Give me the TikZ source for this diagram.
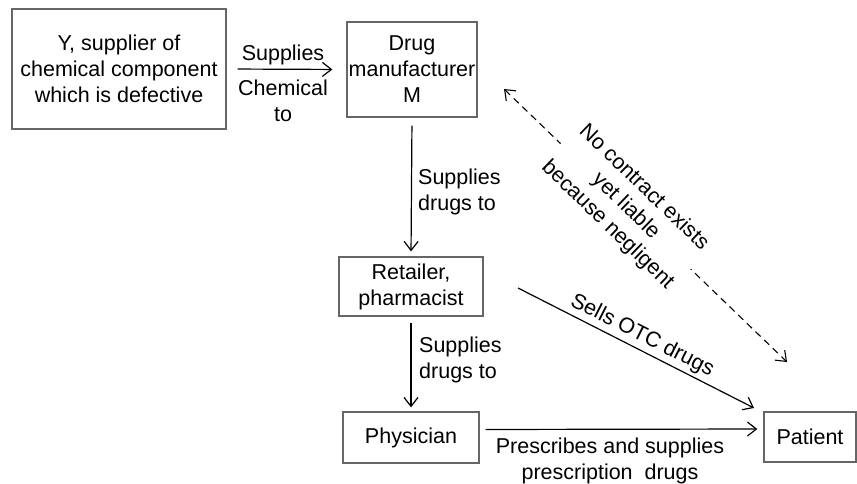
\documentclass[tikz,border=0pt]{standalone}
\usepackage{fontspec}
\setmainfont{Liberation Sans}
\usetikzlibrary{arrows.meta}
\begin{document}
\begin{tikzpicture}[x=1pt,y=-1pt,
  every node/.style={font=\fontsize{21.5}{26}\selectfont, text=black},
  box/.style={draw=black!60, line width=1.3pt, inner sep=0pt, align=center},
  arr/.style={draw=black, line width=1.2pt, -{Straight Barb[length=9pt,width=14pt,line width=1.2pt]}},
  darr/.style={draw=black, line width=1.1pt, dash pattern=on 7pt off 5pt,
    {Straight Barb[length=9pt,width=14pt,line width=1.1pt]}-{Straight Barb[length=9pt,width=14pt,line width=1.1pt]}},
  lbl/.style={align=left, inner sep=0pt}
]
\useasboundingbox (0,0) rectangle (857,484);

% parties
\node[box, minimum width=214pt, minimum height=120pt] (Y)  at (119,69)
  {Y, supplier of\\chemical component\\which is defective};
\node[box, minimum width=130pt, minimum height=95pt]  (M)  at (412,69.5)
  {Drug\\manufacturer\\M};
\node[box, minimum width=144pt, minimum height=59pt]  (R)  at (411,286.5)
  {Retailer,\\pharmacist};
\node[box, minimum width=136pt, minimum height=51pt]  (Ph) at (411,437.5)
  {Physician};
\node[box, minimum width=92pt, minimum height=50pt]   (Pa) at (810,437)
  {Patient};

% supply chain
\draw[arr, shorten <=11pt, shorten >=14pt] (Y.east) -- (M.west);
\node[inner sep=0pt] (ylab1) at (283,55) {Supplies};
\node[inner sep=0pt, align=center] (ylab2) at (283,101) {Chemical\\to};

\draw[arr, shorten <=8pt, shorten >=5pt] (M.south) -- (R.north);
\node[lbl, anchor=west] (mlab) at (418,192) {Supplies\\drugs to};

\draw[arr, shorten <=6pt, shorten >=4pt] (R.south) -- (Ph.north);
\node[lbl, anchor=west] (rlab) at (419,360) {Supplies\\drugs to};

\draw[arr, shorten <=6pt, shorten >=6pt] ([yshift=8pt]Ph.east) -- ([yshift=8pt]Pa.west);
\node[inner sep=0pt, align=center] (plab) at (610,461) {Prescribes and supplies\\prescription~~drugs};

% over-the-counter sale
\coordinate (otcA) at (518,288);
\coordinate (otcB) at (754,408);
\draw[arr] (otcA) -- node[sloped, above, inner sep=3pt, pos=0.5] (otclab) {Sells OTC drugs} (otcB);

% liability without contract
\coordinate (liaA) at (504,89);
\coordinate (liaB) at (787,362);
\draw[darr] (liaA) -- node[sloped, fill=white, align=center, inner sep=3pt, pos=0.43] (lialab)
  {No contract exists\\yet liable\\because negligent} (liaB);
\end{tikzpicture}
\end{document}
